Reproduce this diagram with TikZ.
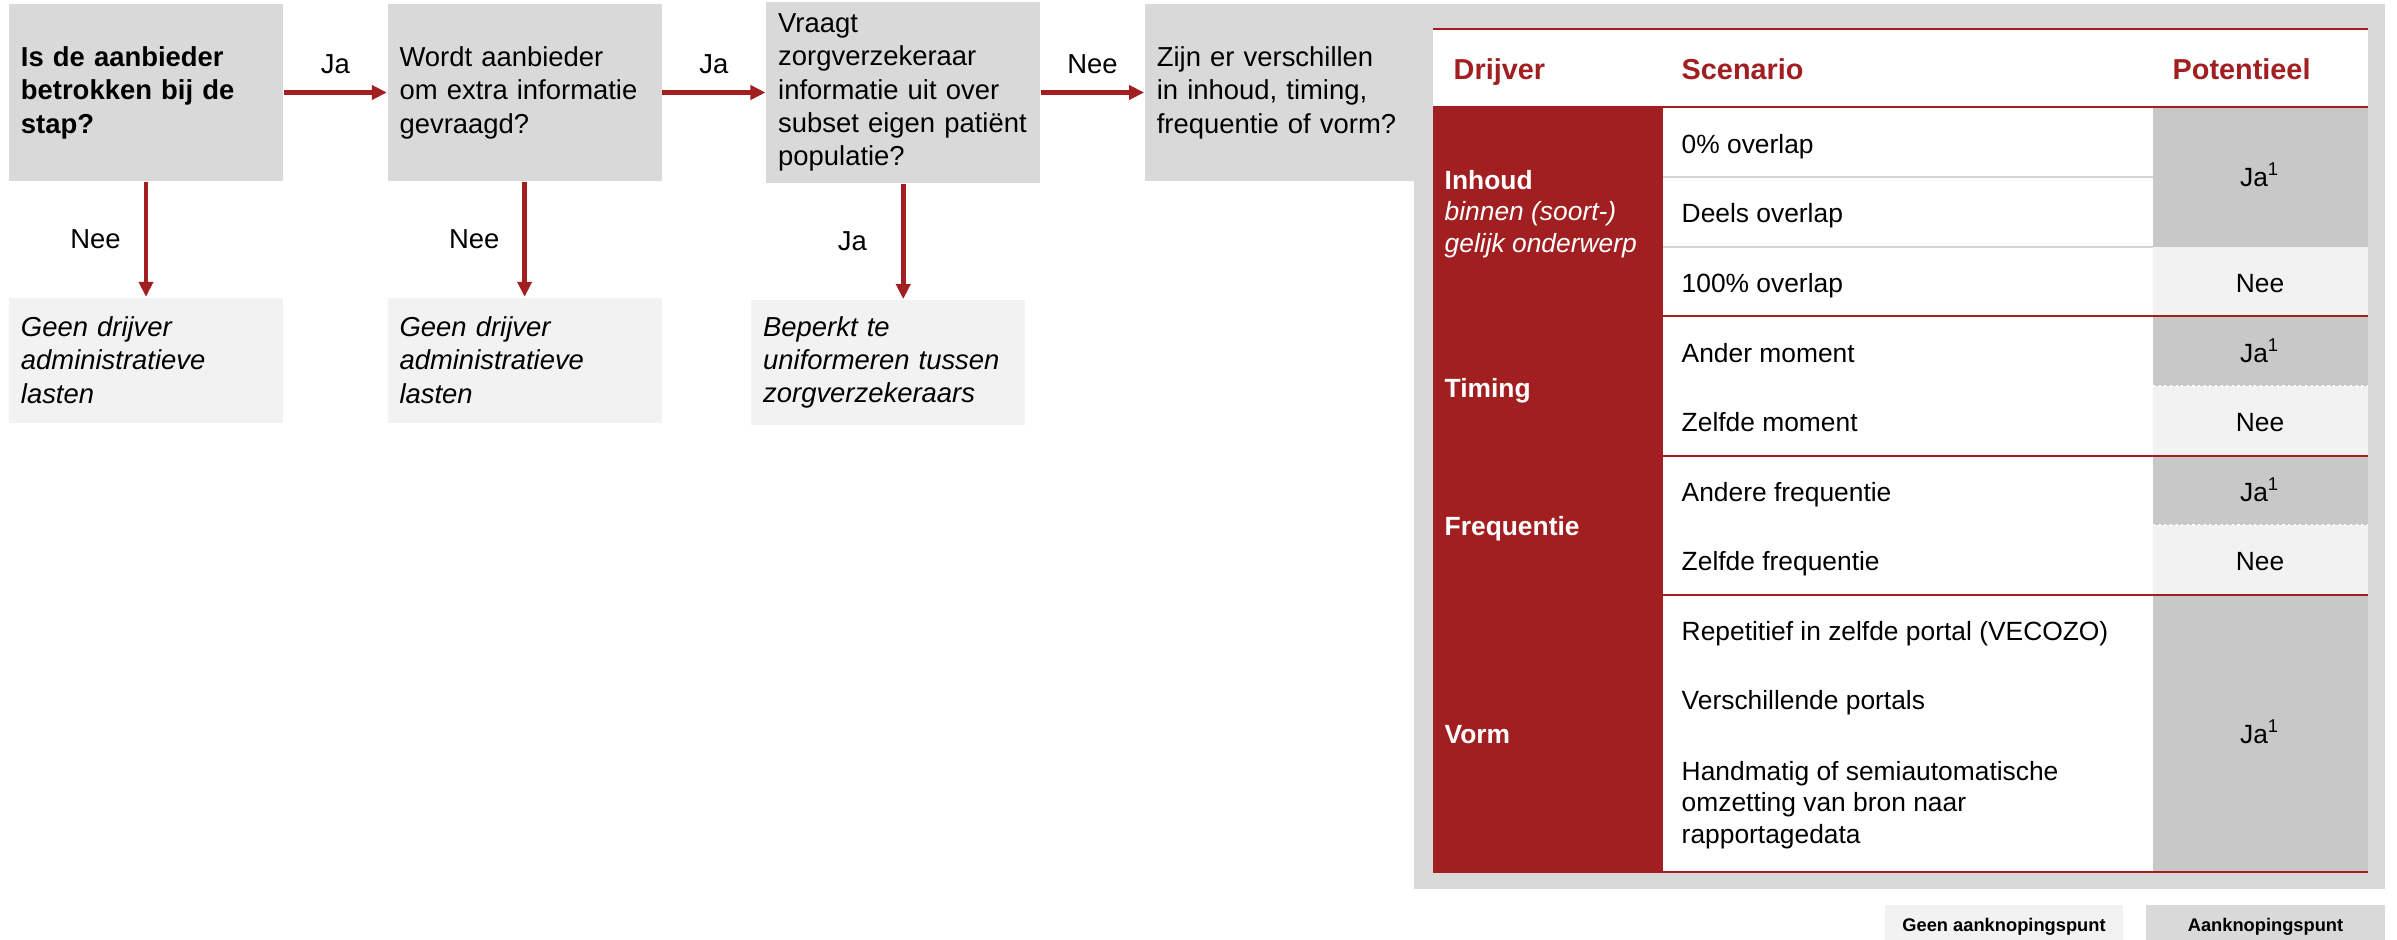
\documentclass[tikz,border=0pt]{standalone}
\usepackage{fontspec}
\setmainfont{Liberation Sans}
\usepackage{xcolor}
\usepackage{tikz}
\usetikzlibrary{arrows.meta, positioning}
\definecolor{donkerrood}{RGB}{161, 31, 33}
\definecolor{vraaggrijs}{RGB}{217, 217, 217}
\definecolor{lichtgrijs}{RGB}{242, 242, 242}
\definecolor{jagrijs}{RGB}{200, 200, 200}
\definecolor{lijngrijs}{RGB}{212, 212, 212}
\newcommand{\tekst}{\fontsize{7.8}{9.5}\selectfont}
\newcommand{\celtekst}{\fontsize{7.5}{9}\selectfont}
\newcommand{\koptekst}{\fontsize{8.2}{10}\selectfont\bfseries}
\newcommand{\legtekst}{\fontsize{5.2}{6}\selectfont\bfseries}

\begin{document}
\begin{tikzpicture}[
      x=0.01cm, y=-0.01cm,
      vraagbox/.style={
        rectangle, fill=vraaggrijs,
        minimum width=2.74cm, minimum height=1.77cm,
        text width=2.5cm, inner xsep=0.12cm, align=left, font=\tekst
      },
      uitkomstbox/.style={
        rectangle, fill=lichtgrijs,
        minimum width=2.74cm, minimum height=1.25cm,
        text width=2.5cm, inner xsep=0.12cm, align=left, font=\tekst\itshape
      },
      arr/.style={-{Triangle[length=0.15cm, width=0.14cm]}, line width=1.3pt, color=donkerrood},
      lbl/.style={font=\tekst, text=black, inner sep=0pt},
      kop/.style={font=\koptekst, text=donkerrood, inner sep=0pt},
      drijver/.style={font=\celtekst\bfseries, text=white, inner sep=0pt, align=left},
      cel/.style={font=\celtekst, inner sep=0pt, align=left},
      rodelijn/.style={draw=donkerrood, line width=0.7pt},
      scheiding/.style={draw=lijngrijs, line width=0.7pt},
      legenda/.style={font=\legtekst, minimum width=2.38cm, minimum height=0.44cm, anchor=north}
  ]
    \useasboundingbox (0,0) rectangle (2397,939);

    \fill[vraaggrijs] (1414,4) rectangle (2385,889);

    \node[vraagbox, font=\tekst\bfseries] (v1) at (146,92.5) {Is de aanbieder\\betrokken bij de\\stap?};
    \node[vraagbox] (v2) [right=1.03cm of v1] {Wordt aanbieder\\om extra informatie\\gevraagd?};
    \node[vraagbox] (v3) [right=1.03cm of v2] {Vraagt\\zorgverzekeraar\\informatie uit over\\subset eigen patiënt\\populatie?};
    \node[vraagbox] (v4) [right=1.03cm of v3] {Zijn er verschillen\\in inhoud, timing,\\frequentie of vorm?};

    \node[uitkomstbox] (u1) [below=1.15cm of v1] {Geen drijver\\administratieve\\lasten};
    \node[uitkomstbox] (u2) [below=1.15cm of v2] {Geen drijver\\administratieve\\lasten};
    \node[uitkomstbox] (u3) [below=1.15cm of v3, xshift=-0.15cm] {Beperkt te\\uniformeren tussen\\zorgverzekeraars};

    \draw[arr] (v1) -- node[lbl, above=0.16cm] (l1) {Ja} (v2);
    \draw[arr] (v2) -- node[lbl, above=0.16cm] (l2) {Ja} (v3);
    \draw[arr] (v3) -- node[lbl, above=0.16cm] (l3) {Nee} (v4);
    \draw[arr] (v1) -- node[lbl, left=0.23cm] (l4) {Nee} (u1);
    \draw[arr] (v2) -- node[lbl, left=0.23cm] (l5) {Nee} (u2);
    \draw[arr] (v3) -- node[lbl, left=0.34cm] (l6) {Ja} (v3 |- u3.north);

    \fill[white] (1433,29) rectangle (2368,107);
    \fill[donkerrood] (1433,107) rectangle (1663,872);
    \fill[white] (1663,107) rectangle (2153,872);
    \fill[jagrijs] (2153,107) rectangle (2368,247);
    \fill[lichtgrijs] (2153,247) rectangle (2368,316);
    \fill[jagrijs] (2153,316) rectangle (2368,386);
    \fill[lichtgrijs] (2153,386) rectangle (2368,456);
    \fill[jagrijs] (2153,456) rectangle (2368,525);
    \fill[lichtgrijs] (2153,525) rectangle (2368,595);
    \fill[jagrijs] (2153,595) rectangle (2368,872);

    \draw[scheiding] (1663,177) -- (2153,177);
    \draw[scheiding] (1663,247) -- (2153,247);
    \draw[white, densely dotted, line width=0.6pt] (2153,386) -- (2368,386);
    \draw[white, densely dotted, line width=0.6pt] (2153,525) -- (2368,525);

    \draw[rodelijn] (1433,29) -- (2368,29);
    \draw[rodelijn] (1433,107) -- (2368,107);
    \draw[rodelijn] (1663,316) -- (2368,316);
    \draw[rodelijn] (1663,456) -- (2368,456);
    \draw[rodelijn] (1663,595) -- (2368,595);
    \draw[rodelijn] (1433,872) -- (2368,872);

    \node[kop, anchor=base west] (hdrijver) at (1453,79) {Drijver};
    \node[kop, anchor=base west] (hscenario) at (1681,79) {Scenario};
    \node[kop, anchor=base west] (hpotentieel) at (2172,79) {Potentieel};

    \node[drijver, anchor=west] (dinhoud) at (1444,214) {Inhoud\\{\mdseries\itshape binnen (soort-)}\\{\mdseries\itshape gelijk onderwerp}};
    \node[drijver, anchor=base west] (dtiming) at (1444,397) {Timing};
    \node[drijver, anchor=base west] (dfrequentie) at (1444,535) {Frequentie};
    \node[drijver, anchor=base west] (dvorm) at (1444,743) {Vorm};

    \node[cel, anchor=base west] (s1) at (1681,153) {0\% overlap};
    \node[cel, anchor=base west] (s2) at (1681,222) {Deels overlap};
    \node[cel, anchor=base west] (s3) at (1681,292) {100\% overlap};
    \node[cel, anchor=base west] (s4) at (1681,362) {Ander moment};
    \node[cel, anchor=base west] (s5) at (1681,431) {Zelfde moment};
    \node[cel, anchor=base west] (s6) at (1681,501) {Andere frequentie};
    \node[cel, anchor=base west] (s7) at (1681,570) {Zelfde frequentie};
    \node[cel, anchor=base west] (s8) at (1681,640) {Repetitief in zelfde portal (VECOZO)};
    \node[cel, anchor=base west] (s9) at (1681,709) {Verschillende portals};
    \node[cel, anchor=west] (s10) at (1681,805) {Handmatig of semiautomatische\\omzetting van bron naar\\rapportagedata};

    \node[cel, anchor=base] (p1) at (2260,186) {Ja\textsuperscript{1}};
    \node[cel, anchor=base] (p2) at (2260,292) {Nee};
    \node[cel, anchor=base] (p3) at (2260,362) {Ja\textsuperscript{1}};
    \node[cel, anchor=base] (p4) at (2260,431) {Nee};
    \node[cel, anchor=base] (p5) at (2260,501) {Ja\textsuperscript{1}};
    \node[cel, anchor=base] (p6) at (2260,570) {Nee};
    \node[cel, anchor=base] (p7) at (2260,743) {Ja\textsuperscript{1}};

    \node[legenda, fill=lichtgrijs] (lgeen) at (2004,904) {Geen aanknopingspunt};
    \node[legenda, fill=vraaggrijs] (lwel) at (2265.5,904) {Aanknopingspunt};
  \end{tikzpicture}
\end{document}
